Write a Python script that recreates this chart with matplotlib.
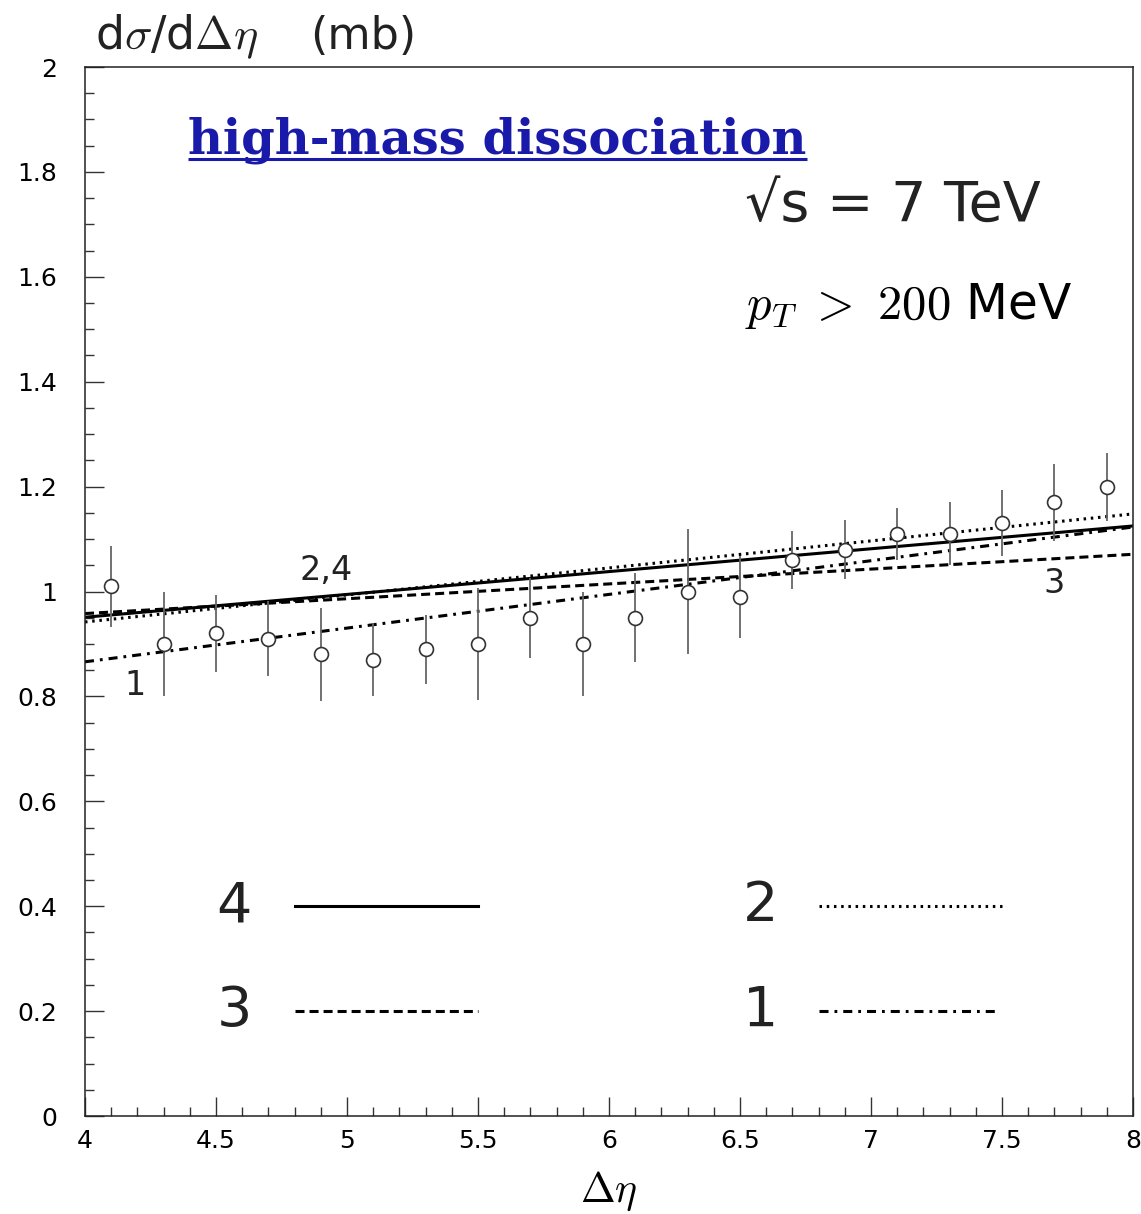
import numpy as np
import matplotlib
matplotlib.use("Agg")
import matplotlib.pyplot as plt

plt.rcParams['font.family'] = ['DejaVu Sans']
plt.rcParams['mathtext.fontset'] = 'cm'
plt.rcParams['lines.scale_dashes'] = False

# data points (delta eta, d sigma / d delta eta in mb, error)
deta = [4.1, 4.3, 4.5, 4.7, 4.9, 5.1, 5.3, 5.5, 5.7, 5.9,
        6.1, 6.3, 6.5, 6.7, 6.9, 7.1, 7.3, 7.5, 7.7, 7.9]
dsig = [1.01, 0.90, 0.92, 0.91, 0.88, 0.87, 0.89, 0.90, 0.95, 0.90,
        0.95, 1.00, 0.99, 1.06, 1.08, 1.11, 1.11, 1.13, 1.17, 1.20]
err = [0.077, 0.10, 0.073, 0.072, 0.088, 0.07, 0.066, 0.106, 0.076, 0.10,
       0.085, 0.12, 0.078, 0.056, 0.057, 0.05, 0.06, 0.063, 0.073, 0.065]

# model curves (straight lines across the range)
x_model = [4.0, 8.0]
model4 = [0.951, 1.125]   # solid
model2 = [0.942, 1.148]   # dotted
model3 = [0.958, 1.071]   # dashed
model1 = [0.866, 1.123]   # dash-dot

fig = plt.figure(figsize=(11.41, 12.14), dpi=100)
ax = fig.add_axes([0.0745, 0.0807, 0.9185, 0.8641])

lw = 2.2
styles = {
    'solid': dict(ls='-'),
    'dotted': dict(ls=(0, (1.8, 3.4))),
    'dashed': dict(ls=(0, (6.5, 3.6))),
    'dashdot': dict(ls=(0, (6.5, 4.3, 2.0, 4.3))),
}

ax.plot(x_model, model4, color='black', lw=lw, **styles['solid'])
ax.plot(x_model, model2, color='black', lw=lw, **styles['dotted'])
ax.plot(x_model, model3, color='black', lw=lw, **styles['dashed'])
ax.plot(x_model, model1, color='black', lw=lw, **styles['dashdot'])

ax.errorbar(deta, dsig, yerr=err, fmt='o', mfc='white', mec='#333333',
            mew=1.2, ms=10, ecolor='#666666', elinewidth=1.3, capsize=0,
            zorder=5)

ax.set_xlim(4, 8)
ax.set_ylim(0, 2)
ax.set_xticks(np.arange(4, 8.01, 0.5))
ax.set_xticklabels(['4', '4.5', '5', '5.5', '6', '6.5', '7', '7.5', '8'])
ax.set_xticks(np.arange(4, 8.001, 0.1), minor=True)
ax.set_yticks(np.arange(0, 2.01, 0.2))
ax.set_yticklabels(['0', '0.2', '0.4', '0.6', '0.8', '1', '1.2', '1.4', '1.6', '1.8', '2'])
ax.set_yticks(np.arange(0, 2.001, 0.05), minor=True)
ax.tick_params(which='both', direction='in', top=False, right=False,
               width=1.0, color='#333333')
ax.tick_params(which='major', length=13.7)
ax.tick_params(which='minor', length=6.8)
ax.tick_params(axis='y', which='major', labelsize=18, pad=20)
ax.tick_params(axis='x', which='major', labelsize=18, pad=9)
for s in ax.spines.values():
    s.set_linewidth(1.1)
    s.set_color('#222222')

fig.text(0.083, 0.970, r'd$\sigma$/d$\Delta\eta$', fontsize=33,
         ha='left', va='center', color='#222222')
fig.text(0.272, 0.970, '(mb)', fontsize=32,
         ha='left', va='center', color='#222222')
ax.text(6.0, -0.143, r'$\Delta\eta$', fontsize=30, ha='center', va='center')

# title with underline
title = ax.text(4.395, 1.836, 'high-mass dissociation', fontsize=34.6,
                family='DejaVu Serif', weight='bold', color='#1a1aaa',
                ha='left', va='baseline')
fig.canvas.draw()
bb = title.get_window_extent().transformed(ax.transData.inverted())
ax.plot([bb.x0, bb.x1], [1.824, 1.824], color='#1a1aaa', lw=2.2,
        solid_capstyle='butt')

ax.text(6.52, 1.735, '√s = 7 TeV', fontsize=40, ha='left',
        va='center', color='#222222')
ax.text(6.52, 1.545, r'$p_T\ >\ 200$ MeV', fontsize=35, ha='left',
        va='center', color='black')

# curve labels
ax.text(4.92, 1.04, '2,4', fontsize=24, ha='center', va='center', color='#222222')
ax.text(4.19, 0.82, '1', fontsize=24, ha='center', va='center', color='#222222')
ax.text(7.70, 1.015, '3', fontsize=24, ha='center', va='center', color='#222222')

# in-plot key
key = [('4', 'solid', 4.57, 4.80, 5.50, 0.40),
       ('2', 'dotted', 6.58, 6.80, 7.50, 0.40),
       ('3', 'dashed', 4.57, 4.80, 5.50, 0.20),
       ('1', 'dashdot', 6.58, 6.80, 7.48, 0.20)]
for lab, st, xt, x0, x1, yk in key:
    ax.text(xt, yk, lab, fontsize=40, ha='center', va='center', color='#222222')
    ax.plot([x0, x1], [yk, yk], color='black', lw=lw, **styles[st])

fig.savefig('out.png', dpi=100)
